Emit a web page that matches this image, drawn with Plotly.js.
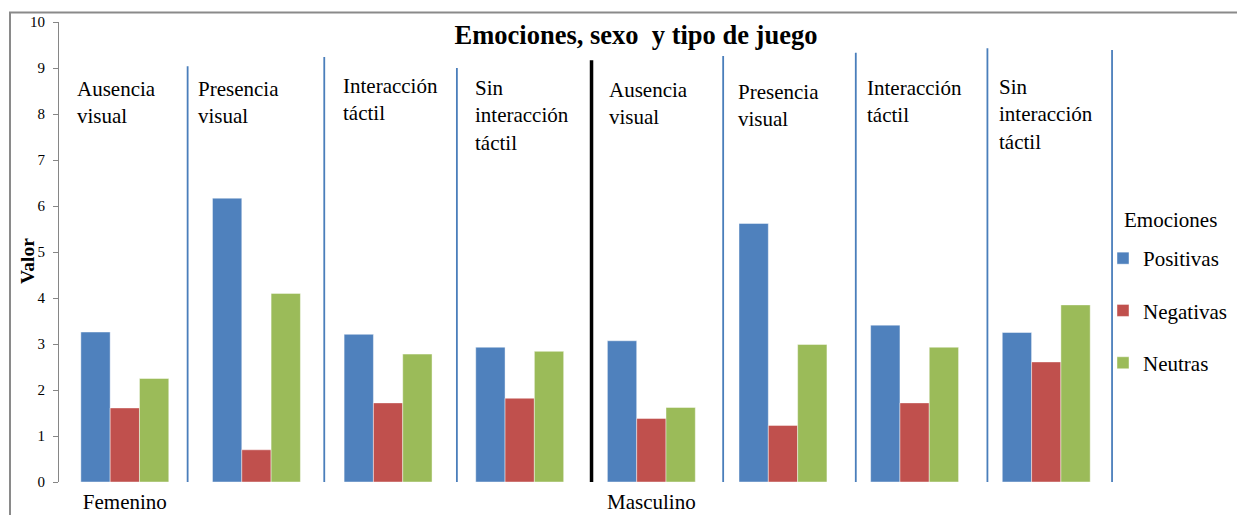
<!DOCTYPE html>
<html>
<head>
<meta charset="utf-8">
<script src="https://cdn.plot.ly/plotly-3.0.1.min.js"></script>
<style>
  html, body { margin: 0; padding: 0; background: #ffffff; }
  #chart { width: 1237px; height: 515px; }
</style>
</head>
<body>
<div id="chart"></div>
<script>
// Sex of the children and type of game
const sexes = ['Femenino', 'Masculino'];
const gameTypes = ['Ausencia<br>visual', 'Presencia<br>visual', 'Interacción<br>táctil', 'Sin<br>interacción<br>táctil'];

// Mean emotion values, Femenino groups first, then Masculino
const positivas = [3.26, 6.17, 3.21, 2.93, 3.07, 5.62, 3.41, 3.25];
const negativas = [1.61, 0.70, 1.72, 1.82, 1.38, 1.23, 1.72, 2.61];
const neutras   = [2.25, 4.10, 2.78, 2.84, 1.62, 2.99, 2.93, 3.85];

const yTicks = [0, 1, 2, 3, 4, 5, 6, 7, 8, 9, 10];

const FONT = 'Liberation Serif, Times New Roman, serif';
const COLORS = { pos: '#4F81BD', neg: '#C0504D', neu: '#9BBB59' };

// plot box in pixels
const PLOT_L = 59, PLOT_T = 22, PLOT_B = 482;
const X_MIN = -0.5, X_MAX = 7.53;
const SLOT_PX = 131.6;
const PLOT_W = Math.round((X_MAX - X_MIN) * SLOT_PX);
const PLOT_H = PLOT_B - PLOT_T;
const UNIT_PX = PLOT_H / 10;
const px2paperX = p => (p - PLOT_L) / PLOT_W;
const px2paperY = p => (PLOT_B - p) / PLOT_H;

// one slot on the x axis per (sex, game type) combination
const groupX = [];
const groupLabels = [];
sexes.forEach((s, si) => gameTypes.forEach((g, gi) => {
  groupX.push(si * gameTypes.length + gi);
  groupLabels.push(g);
}));

function barTrace(name, values, color) {
  return {
    type: 'bar',
    name: name,
    x: groupX,
    y: values,
    legendgroup: name,
    marker: { color: color, line: { color: 'rgba(255,255,255,0.55)', width: 0.8 } },
    hovertemplate: name + ': %{y}<extra></extra>'
  };
}

const traces = [
  barTrace('Positivas', positivas, COLORS.pos),
  barTrace('Negativas', negativas, COLORS.neg),
  barTrace('Neutras', neutras, COLORS.neu)
];

// hand-placed divider lines between groups (the thick black one splits the two sexes)
const dividerTops = [9.04, 9.24, 9.0, 9.17, 9.26, 9.33, 9.43, 9.39];
const dividerShiftPx = [-3, 2, 3, 6, 6, 7, 7, 0];
const shapes = dividerTops.map((top, k) => {
  const sexSplit = (k + 1) === gameTypes.length;
  const xPos = k + 0.5 + dividerShiftPx[k] / SLOT_PX;
  return {
    type: 'line', xref: 'x', yref: 'y',
    x0: xPos, x1: xPos, y0: 0, y1: top,
    line: { color: sexSplit ? '#000000' : '#4A7EBB', width: sexSplit ? 3.5 : 1.8 },
    layer: 'above'
  };
});
// outer chart frame
shapes.push({
  type: 'rect', xref: 'paper', yref: 'paper',
  x0: px2paperX(10), x1: px2paperX(1300), y0: px2paperY(600), y1: px2paperY(12.5),
  line: { color: '#8A8A8A', width: 2 }, fillcolor: 'rgba(0,0,0,0)', layer: 'below'
});

// group captions in the top-left corner of each group, nudged in pixels
const captionShiftPx = [16, 5, 19, 19, 21, 19, 16, 17];
const captionDropPx  = [0, 0, -3, -1, 1, 3, -1, -2];
const annotations = groupLabels.map((txt, k) => ({
  xref: 'x', yref: 'y',
  x: groupX[k] - 0.5 + captionShiftPx[k] / SLOT_PX,
  y: 8.84 - captionDropPx[k] / UNIT_PX,
  xanchor: 'left', yanchor: 'top', align: 'left',
  text: txt, showarrow: false,
  font: { family: FONT, size: 21, color: '#000000' }
}));
// vertical axis caption
annotations.push({
  xref: 'paper', yref: 'paper',
  x: px2paperX(27), y: px2paperY(261),
  xanchor: 'center', yanchor: 'middle',
  text: '<b>Valor</b>', textangle: -90, showarrow: false,
  font: { family: FONT, size: 19.5, color: '#000000' }
});
// legend heading
annotations.push({
  xref: 'paper', yref: 'paper',
  x: px2paperX(1122), y: px2paperY(220),
  xanchor: 'left', yanchor: 'middle',
  text: 'Emociones', showarrow: false,
  font: { family: FONT, size: 21, color: '#000000' }
});

const layout = {
  width: 1237, height: 515,
  margin: { l: PLOT_L, r: 1237 - PLOT_L - PLOT_W, t: PLOT_T, b: 515 - PLOT_B, pad: 0, autoexpand: false },
  paper_bgcolor: '#ffffff', plot_bgcolor: '#ffffff',
  font: { family: FONT, color: '#000000' },
  title: {
    text: '<b>Emociones, sexo\u00a0 y tipo de juego</b>',
    font: { family: FONT, size: 26.5, color: '#000000' },
    x: px2paperX(636), xref: 'paper', xanchor: 'center',
    y: 1 - 35 / 515, yref: 'container', yanchor: 'middle'
  },
  barmode: 'group', bargap: 0.332, bargroupgap: 0,
  xaxis: {
    range: [X_MIN, X_MAX],
    tickvals: [0, gameTypes.length],
    ticktext: sexes,
    ticks: '', showline: false, showgrid: false, zeroline: false,
    ticklabelstandoff: 5,
    tickfont: { family: FONT, size: 21, color: '#000000' },
    fixedrange: true
  },
  yaxis: {
    range: [0, 10],
    tickvals: yTicks,
    ticks: 'outside', ticklen: 5, tickcolor: '#868686', tickwidth: 1,
    showline: true, linecolor: '#868686', linewidth: 1,
    showgrid: false, zeroline: false,
    ticklabelstandoff: 5,
    tickfont: { family: FONT, size: 15, color: '#000000' },
    fixedrange: true
  },
  legend: {
    font: { family: FONT, size: 21, color: '#000000' },
    x: px2paperX(1103), xanchor: 'left',
    y: px2paperY(238), yanchor: 'top',
    traceorder: 'grouped', tracegroupgap: 22,
    bgcolor: 'rgba(0,0,0,0)', borderwidth: 0
  },
  shapes: shapes,
  annotations: annotations,
  showlegend: true
};

Plotly.newPlot('chart', traces, layout, { displayModeBar: false, staticPlot: true });
</script>
</body>
</html>
